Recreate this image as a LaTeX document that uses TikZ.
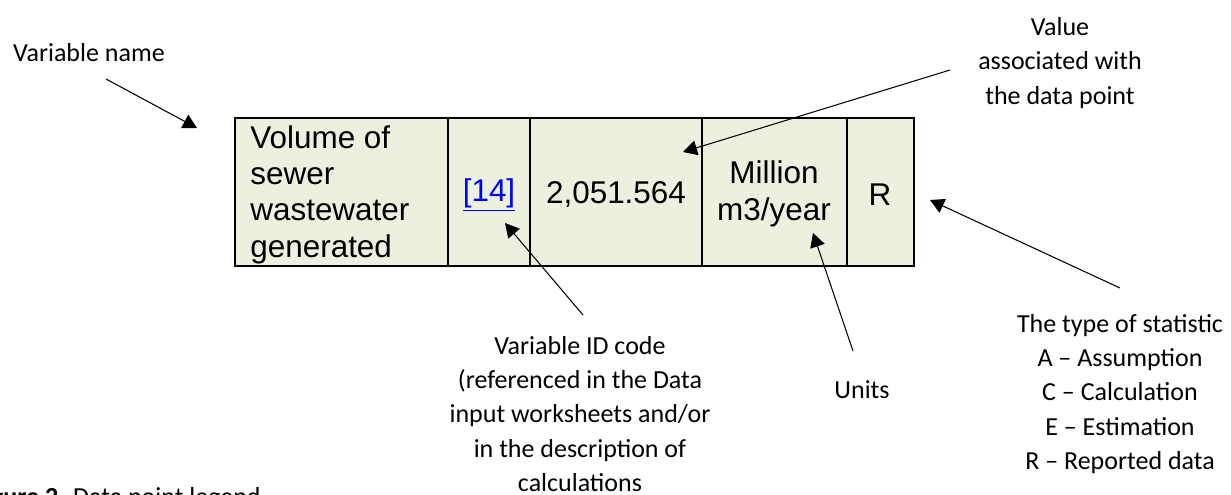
\documentclass[tikz,border=0pt]{standalone}
\usepackage{fontspec}
\setmainfont{Carlito}
\newfontfamily\cellfont{Liberation Sans}
\usetikzlibrary{arrows.meta}

\definecolor{cellgreen}{HTML}{EBF1DE}
\definecolor{linkblue}{HTML}{0000FF}

\tikzset{
  cell/.style={draw, line width=1.1pt, fill=cellgreen},
  celltext/.style={font=\cellfont\fontsize{17.9}{20.5}\selectfont, inner sep=0pt},
  note/.style={font=\fontsize{14.8}{19.6}\selectfont, align=center, inner sep=0pt},
  pointer/.style={-{Triangle[length=0.28cm, width=0.3cm]}, line width=0.6pt},
}

\begin{document}
\begin{tikzpicture}[x=0.02cm, y=-0.02cm]
  \clip (0,0) rectangle (1231,494);
  \useasboundingbox (0,0) rectangle (1231,494);

  % the data point row
  \draw[cell] (235,118) rectangle (448,266);
  \draw[cell] (448,118) rectangle (530,266);
  \draw[cell] (530,118) rectangle (702,266);
  \draw[cell] (702,118) rectangle (847,266);
  \draw[cell] (847,118) rectangle (914,266);

  % base = baseline of the last line
  \node[celltext, anchor=base west, align=left] (name) at (250,257)
    {Volume of\\sewer\\wastewater\\generated};
  \node[celltext, text=linkblue] (code) at (489,195) {\underline{[14]}};
  \node[celltext] (value) at (616,195) {2,051.564};
  \node[celltext, anchor=base, align=center] (units) at (774,220) {Million\\m3/year};
  \node[celltext] (type) at (880,195) {R};

  % legend texts
  \node[note] (namenote) at (89,53) {Variable name};
  \node[note] (valuenote) at (1060,63) {Value\\associated with\\the data point};
  \node[note] (codenote) at (580,414) {Variable ID code\\(referenced in the Data\\input worksheets and/or\\in the description of\\calculations};
  \node[note] (unitsnote) at (862,390) {Units};
  \node[note] (typenote) at (1120,394) {The type of statistic\\A -- Assumption\\C -- Calculation\\E -- Estimation\\R -- Reported data};

  \node[note, anchor=base east] (caption) at (261,505) {\textbf{Figure 2.} Data point legend};

  % pointers
  \coordinate (nameTail) at (106,79);
  \coordinate (nameTip) at (197,128);
  \coordinate (valueTail) at (950,70);
  \coordinate (valueTip) at (683,152);
  \coordinate (codeTail) at (583,315);
  \coordinate (codeTip) at (505,223);
  \coordinate (unitsTail) at (853,351);
  \coordinate (unitsTip) at (813,233);
  \coordinate (typeTail) at (1120,288);
  \coordinate (typeTip) at (930,200);

  \draw[pointer] (nameTail) -- (nameTip);
  \draw[pointer] (valueTail) -- (valueTip);
  \draw[pointer] (codeTail) -- (codeTip);
  \draw[pointer] (unitsTail) -- (unitsTip);
  \draw[pointer] (typeTail) -- (typeTip);
\end{tikzpicture}
\end{document}
